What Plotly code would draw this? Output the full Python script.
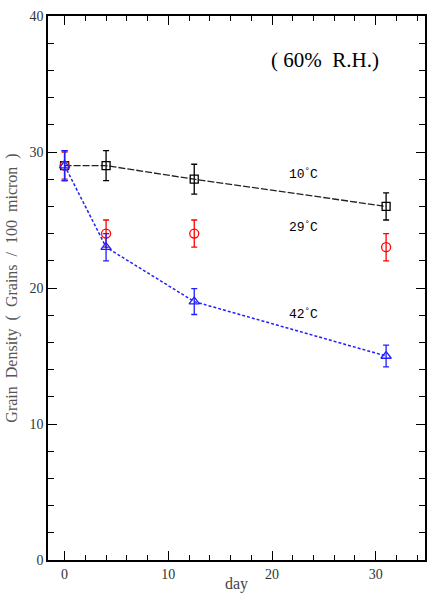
import plotly.graph_objects as go

days = [0, 4, 12.5, 31]
t10 = [29, 29, 28, 26]
t10_err = [1.1, 1.1, 1.1, 1.0]
t29 = [29, 24, 24, 23]
t29_err = [1.0, 1.0, 1.0, 1.0]
t42 = [29, 23, 19, 15]
t42_err = [1.1, 1.0, 0.95, 0.8]
labels = ["10<sup>°</sup>C", "29<sup>°</sup>C", "42<sup>°</sup>C"]
label_pos = [(23, 28.4), (23, 24.5), (23, 18.1)]

fig = go.Figure()
fig.add_trace(go.Scatter(
    x=days, y=t10, mode="lines+markers",
    line=dict(color="#222222", width=1.3, dash="7px,2px"),
    marker=dict(symbol="square-open", size=8, color="black", line=dict(width=1.3)),
    error_y=dict(type="data", array=t10_err, color="black", thickness=1.3, width=3),
))
fig.add_trace(go.Scatter(
    x=days, y=t29, mode="markers",
    marker=dict(symbol="circle-open", size=9, color="red", line=dict(width=1.3)),
    error_y=dict(type="data", array=t29_err, color="red", thickness=1.3, width=3),
))
fig.add_trace(go.Scatter(
    x=days, y=t42, mode="lines+markers",
    line=dict(color="#2020ff", width=1.5, dash="3px,2px"),
    marker=dict(symbol="triangle-up-open", size=9, color="#2020ff", line=dict(width=1.3)),
    error_y=dict(type="data", array=t42_err, color="#2020ff", thickness=1.3, width=3),
))

for (lx, ly), txt in zip(label_pos, labels):
    fig.add_annotation(x=lx, y=ly, text=txt, showarrow=False, xanchor="center", yanchor="middle",
                       font=dict(family="Liberation Mono", size=13, color="black"))

fig.add_annotation(x=0.735, y=0.919, xref="paper", yref="paper", text="( 60%  R.H.)",
                   xanchor="center", yanchor="middle", showarrow=False,
                   font=dict(family="Liberation Serif", size=21, color="black"))

axis_common = dict(
    showline=True, linecolor="black", linewidth=1.5, mirror="ticks",
    ticks="inside", ticklen=9, tickwidth=1.3, tickcolor="black",
    showgrid=False, zeroline=False,
    tickfont=dict(family="Liberation Serif", size=14, color="#333333"),
)
fig.update_xaxes(range=[-1.6, 34.75], dtick=10, tick0=0,
                 minor=dict(dtick=2, tick0=0, ticks="inside", ticklen=5, tickcolor="black", showgrid=False),
                 title=dict(text="day", font=dict(family="Liberation Serif", size=16, color="#444444"), standoff=0),
                 **axis_common)
fig.update_yaxes(range=[0, 40], dtick=10, tick0=0,
                 minor=dict(dtick=2, tick0=0, ticks="inside", ticklen=6, tickcolor="black", showgrid=False),
                 title=dict(text="Grain  Density  (  Grains  /  100  micron  )",
                            font=dict(family="Liberation Serif", size=16, color="#555555"), standoff=8),
                 **axis_common)

fig.update_layout(
    width=427, height=593, showlegend=False,
    plot_bgcolor="white", paper_bgcolor="white",
    margin=dict(l=48, r=0, t=16, b=33),
)
fig.write_html("out.html", config={"displayModeBar": False},
               post_script="document.body.style.margin='0';document.body.style.overflow='hidden';")
